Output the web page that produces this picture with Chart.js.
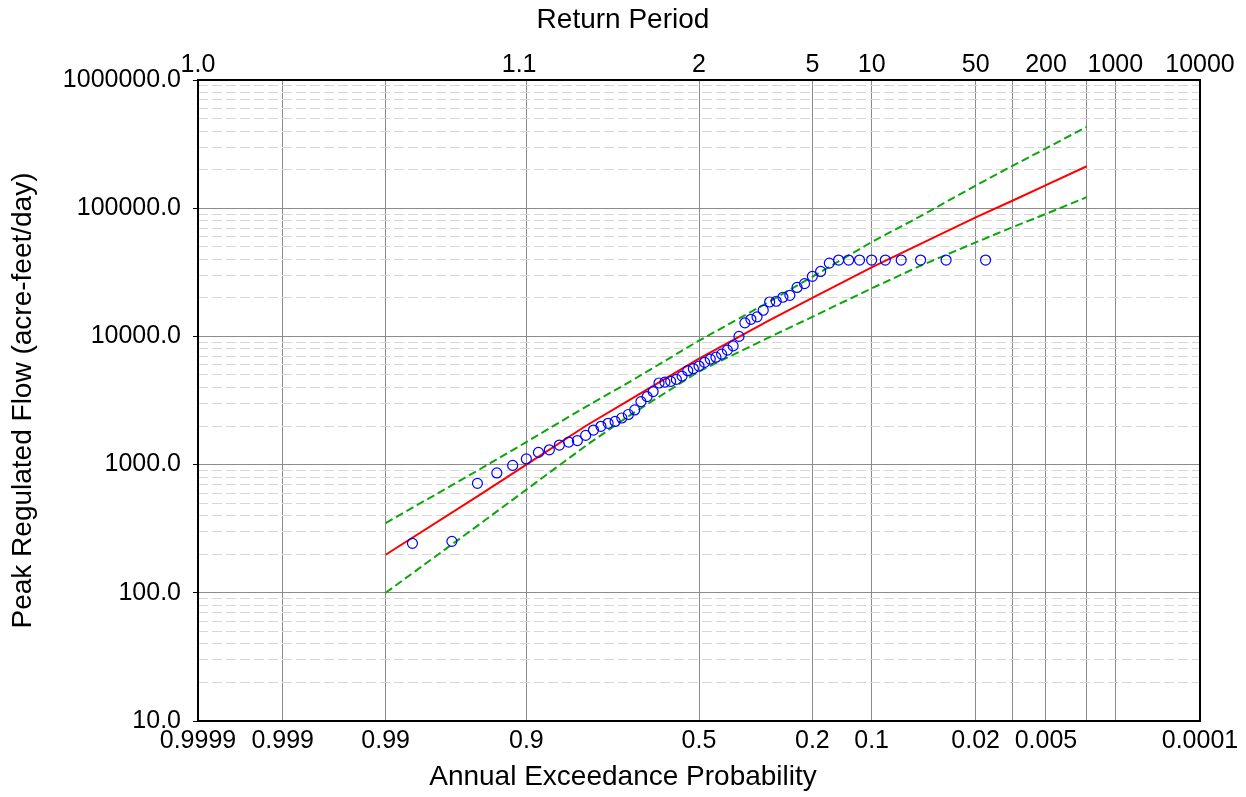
<!DOCTYPE html>
<html>
<head>
<meta charset="utf-8">
<title>Peak Regulated Flow frequency</title>
<script src="https://cdn.jsdelivr.net/npm/chart.js@4/dist/chart.umd.min.js"></script>
<style>
    html, body { margin: 0; padding: 0; background: #fff; }
    #wrap { width: 1246px; height: 797px; }
</style>
</head>
<body>
<div id="wrap"><canvas id="freqChart" width="1246" height="797"></canvas></div>
<script>
// observed peaks, plotted at exceedance probability (rank / (n+1))
const obsProb = [0.0167, 0.0333, 0.05, 0.0667, 0.0833, 0.1, 0.1167, 0.1333, 0.15, 0.1667,
    0.1833, 0.2, 0.2167, 0.2333, 0.25, 0.2667, 0.2833, 0.3, 0.3167, 0.3333,
    0.35, 0.3667, 0.3833, 0.4, 0.4167, 0.4333, 0.45, 0.4667, 0.4833, 0.5,
    0.5167, 0.5333, 0.55, 0.5667, 0.5833, 0.6, 0.6167, 0.6333, 0.65, 0.6667,
    0.6833, 0.7, 0.7167, 0.7333, 0.75, 0.7667, 0.7833, 0.8, 0.8167, 0.8333,
    0.85, 0.8667, 0.8833, 0.9, 0.9167, 0.9333, 0.95, 0.9667, 0.9833];
const obsFlow = [39400, 39400, 39400, 39400, 39400, 39400, 39400, 39400, 39400, 37300,
    32100, 29400, 25800, 24100, 20900, 20200, 18800, 18550, 16000, 14200,
    13600, 12750, 10000, 8430, 7810, 7270, 6880, 6650, 6270, 5870,
    5600, 5400, 4900, 4620, 4460, 4400, 4330, 3710, 3390, 3100,
    2670, 2460, 2310, 2170, 2100, 1990, 1860, 1690, 1540, 1500,
    1420, 1305, 1245, 1107, 986, 861, 714, 252, 243];

// computed curve and 5% / 95% confidence limits
const curveProb = [0.99, 0.95, 0.9, 0.8, 0.7, 0.5, 0.3, 0.2, 0.1, 0.05, 0.02, 0.01, 0.005, 0.002];
const computedFlow = [198, 565, 1000, 2000, 3150, 6700, 13400, 20000, 34500, 52600, 84700, 114300, 151300, 212400];
const upperFlow = [350, 897, 1500, 2820, 4360, 9270, 18700, 29200, 54500, 86700, 150300, 213800, 293000, 431000];
const lowerFlow = [100, 333, 638, 1400, 2380, 5340, 9880, 14200, 23700, 35600, 54100, 71000, 90300, 121900];

// axis ticks
const probTicks = [0.9999, 0.999, 0.99, 0.9, 0.5, 0.2, 0.1, 0.02, 0.01, 0.005, 0.002, 0.001, 0.0001];
const probLabels = ['0.9999', '0.999', '0.99', '0.9', '0.5', '0.2', '0.1', '0.02', '', '0.005', '', '', '0.0001'];
const returnPeriods = [1.0, 1.1, 2, 5, 10, 50, 200, 1000, 10000];
const returnLabels = ['1.0', '1.1', '2', '5', '10', '50', '200', '1000', '10000'];
const flowTicks = [10, 100, 1000, 10000, 100000, 1000000];

// inverse standard normal (Acklam)
function normInv(p) {
    const a = [-3.969683028665376e+01, 2.209460984245205e+02, -2.759285104469687e+02, 1.383577518672690e+02, -3.066479806614716e+01, 2.506628277459239e+00];
    const b = [-5.447609879822406e+01, 1.615858368580409e+02, -1.556989798598866e+02, 6.680131188771972e+01, -1.328068155288572e+01];
    const c = [-7.784894002430293e-03, -3.223964580411365e-01, -2.400758277161838e+00, -2.549732539343734e+00, 4.374664141464968e+00, 2.938163982698783e+00];
    const d = [7.784695709041462e-03, 3.224671290700398e-01, 2.445134137142996e+00, 3.754408661907416e+00];
    const pl = 0.02425;
    let q, r;
    if (p < pl) {
        q = Math.sqrt(-2 * Math.log(p));
        return (((((c[0]*q + c[1])*q + c[2])*q + c[3])*q + c[4])*q + c[5]) / ((((d[0]*q + d[1])*q + d[2])*q + d[3])*q + 1);
    }
    if (p > 1 - pl) {
        q = Math.sqrt(-2 * Math.log(1 - p));
        return -(((((c[0]*q + c[1])*q + c[2])*q + c[3])*q + c[4])*q + c[5]) / ((((d[0]*q + d[1])*q + d[2])*q + d[3])*q + 1);
    }
    q = p - 0.5;
    r = q * q;
    return (((((a[0]*r + a[1])*r + a[2])*r + a[3])*r + a[4])*r + a[5])*q / (((((b[0]*r + b[1])*r + b[2])*r + b[3])*r + b[4])*r + 1);
}

// exceedance probability -> position on the probability axis
const zOf = p => normInv(1 - p);
const xMin = zOf(0.9999);
const xMax = zOf(0.0001);

const pairs = (probs, flows) => probs.map((p, i) => ({ x: zOf(p), y: flows[i] }));

document.addEventListener('DOMContentLoaded', function() {
    const ctx = document.getElementById('freqChart').getContext('2d');
    Chart.defaults.font.family = '"Liberation Sans", Arial, sans-serif';
    Chart.defaults.color = '#000';

    const font25 = { size: 25 };
    const font28 = { size: 28, weight: 'normal' };

    new Chart(ctx, {
        type: 'scatter',
        data: {
            datasets: [
                {
                    label: 'Observed',
                    data: pairs(obsProb, obsFlow),
                    showLine: false,
                    pointStyle: 'circle',
                    pointRadius: 5,
                    pointBorderWidth: 1.2,
                    borderColor: '#0000ff',
                    backgroundColor: 'rgba(0,0,0,0)'
                },
                {
                    label: 'Computed',
                    data: pairs(curveProb, computedFlow),
                    showLine: true,
                    pointRadius: 0,
                    borderColor: '#ff0000',
                    borderWidth: 2
                },
                {
                    label: 'Upper',
                    data: pairs(curveProb, upperFlow),
                    showLine: true,
                    pointRadius: 0,
                    borderColor: '#0aa70a',
                    borderWidth: 2,
                    borderDash: [8, 4]
                },
                {
                    label: 'Lower',
                    data: pairs(curveProb, lowerFlow),
                    showLine: true,
                    pointRadius: 0,
                    borderColor: '#0aa70a',
                    borderWidth: 2,
                    borderDash: [8, 4]
                }
            ]
        },
        options: {
            responsive: false,
            animation: false,
            devicePixelRatio: 1,
            layout: { padding: 0 },
            plugins: {
                legend: { display: false },
                tooltip: { enabled: false },
                title: {
                    display: true,
                    text: 'Return Period',
                    font: font28,
                    color: '#000',
                    padding: { top: 3, bottom: 0 }
                },
                subtitle: {
                    display: true,
                    position: 'bottom',
                    text: 'Annual Exceedance Probability',
                    font: font28,
                    color: '#000',
                    padding: { top: 0, bottom: 3 }
                }
            },
            scales: {
                x: {
                    type: 'linear',
                    position: 'bottom',
                    min: xMin,
                    max: xMax,
                    afterBuildTicks: function(scale) {
                        scale.ticks = probTicks.map(p => ({ value: zOf(p) }));
                    },
                    afterFit: function(scale) { scale.height = 39.4; },
                    ticks: {
                        autoSkip: false,
                        maxRotation: 0,
                        padding: 5,
                        font: font25,
                        callback: (v, i) => probLabels[i]
                    },
                    grid: { color: '#8c8c8c', lineWidth: 1, drawTicks: false },
                    border: { display: true, color: '#000', width: 2 }
                },
                x2: {
                    type: 'linear',
                    position: 'top',
                    min: xMin,
                    max: xMax,
                    afterBuildTicks: function(scale) {
                        scale.ticks = returnPeriods.map(t => ({ value: t <= 1 ? xMin : zOf(1 / t) }));
                    },
                    afterFit: function(scale) { scale.height = 43.4; },
                    ticks: {
                        autoSkip: false,
                        maxRotation: 0,
                        padding: 0,
                        font: font25,
                        callback: (v, i) => returnLabels[i]
                    },
                    grid: { display: false, drawTicks: false },
                    border: { display: true, color: '#000', width: 2 }
                },
                y: {
                    type: 'logarithmic',
                    position: 'left',
                    min: 10,
                    max: 1000000,
                    afterBuildTicks: function(scale) {
                        scale.ticks = flowTicks.map(v => ({ value: v, major: true }));
                    },
                    afterFit: function(scale) { scale.width = 198; },
                    ticks: {
                        padding: 12,
                        font: font25,
                        callback: v => Number(v).toFixed(1)
                    },
                    title: {
                        display: true,
                        text: 'Peak Regulated Flow (acre-feet/day)',
                        font: font28,
                        color: '#000',
                        padding: { top: 6, bottom: 0 }
                    },
                    grid: { color: '#8c8c8c', lineWidth: 1, tickLength: 5, tickColor: '#000' },
                    border: { display: true, color: '#000', width: 2 }
                },
                yMinor: {
                    type: 'logarithmic',
                    position: 'right',
                    min: 10,
                    max: 1000000,
                    afterBuildTicks: function(scale) {
                        const minor = [];
                        flowTicks.slice(0, -1).forEach(d => {
                            for (let m = 2; m <= 9; m++) minor.push({ value: d * m });
                        });
                        scale.ticks = minor;
                    },
                    afterFit: function(scale) { scale.width = 46; },
                    ticks: { display: false },
                    grid: { color: '#d6d6d6', lineWidth: 1, drawTicks: false },
                    border: { display: true, color: '#000', width: 2, dash: [10, 4] }
                }
            }
        }
    });
});
</script>
</body>
</html>
